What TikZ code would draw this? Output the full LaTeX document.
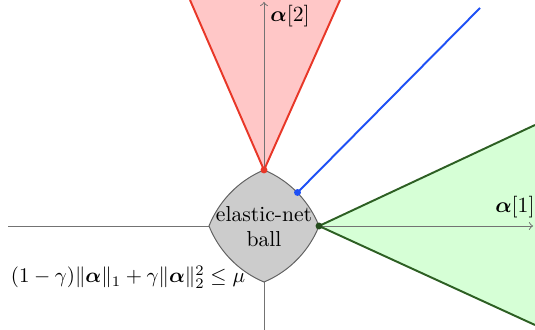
\documentclass[tikz,border=0pt]{standalone}
\usepackage{amsmath,amssymb,bm}
\definecolor{redline}{RGB}{232,55,40}
\definecolor{blueline}{RGB}{30,80,245}
\definecolor{greenline}{RGB}{45,95,35}
\begin{document}
\begin{tikzpicture}[x=0.4625pt,y=-0.4625pt,
  axis/.style={draw=black!55,line width=0.45pt,->},
  conered/.style={draw=redline,line width=0.9pt},
  conegreen/.style={draw=greenline,line width=0.9pt},
  rayblue/.style={draw=blueline,line width=0.9pt},
  dotmark/.style={circle,inner sep=0pt,minimum size=3.2pt},
  declare function={rr(\t)=(-0.58*(abs(cos(\t))+abs(sin(\t)))+sqrt(0.3364*(abs(cos(\t))+abs(sin(\t)))^2+1.68))/0.84;}]
\useasboundingbox (0,0) rectangle (535,330);
% key points
\coordinate (O) at (264,226);
\coordinate (top) at (264,170);
\coordinate (right) at (319,226);
\coordinate (blue) at (297.5,192.5);
\coordinate (r1) at (190,0);
\coordinate (r2) at (340,0);
\coordinate (g1) at (535,125);
\coordinate (g2) at (535,325);
\coordinate (b2) at (480,8);
% cones fill
\fill[red!22] (r1) -- (top) -- (r2) -- cycle;
\fill[green!16] (g1) -- (right) -- (g2) -- cycle;
% axes
\coordinate (xl) at (8,226);
\coordinate (xr) at (533,226);
\coordinate (yb) at (264,330);
\coordinate (yt) at (264,2);
\draw[axis] (xl) -- (xr);
\draw[axis] (yb) -- (yt);
% ball
\begin{scope}[shift={(O)}]
\filldraw[fill=black!20,draw=black!62,line width=0.45pt]
  plot[domain=0:360,samples=181] ({55*rr(\x)*cos(\x)},{56*rr(\x)*sin(\x)}) -- cycle;
\end{scope}
\node[align=center,inner sep=0pt] (ball) at (264,226.5) {elastic-net\\[-0.5pt]ball};
% cone edges and ray
\draw[conered] (r1) -- (top) -- (r2);
\draw[conegreen] (g1) -- (right) -- (g2);
\draw[rayblue] (blue) -- (b2);
\node[dotmark,fill=redline] (dr) at (top) {};
\node[dotmark,fill=blueline] (db) at (blue) {};
\node[dotmark,fill=greenline!80!black] (dg) at (right) {};
% labels
\node[anchor=west,inner sep=0pt] (l2) at (270,16) {$\bm{\alpha}[2]$};
\node[anchor=east,inner sep=0pt] (l1) at (535,207) {$\bm{\alpha}[1]$};
\node[inner sep=0pt,scale=0.965] (eq) at (128,277) {$(1-\gamma)\|\bm{\alpha}\|_1+\gamma\|\bm{\alpha}\|_2^2\le\mu$};
\end{tikzpicture}
\end{document}
